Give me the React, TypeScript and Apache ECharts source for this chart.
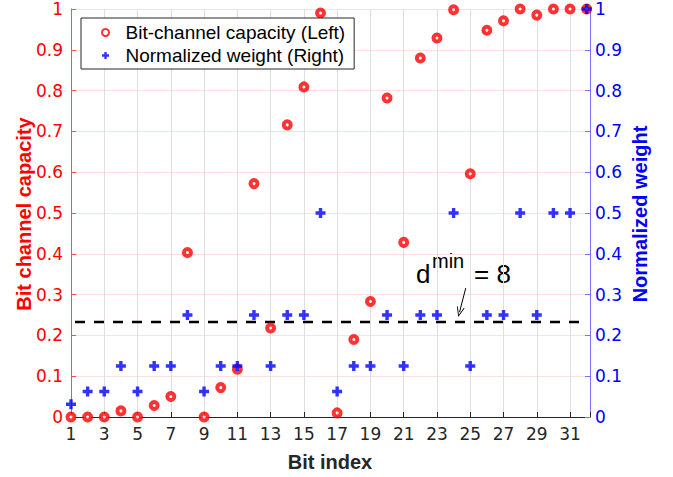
import { useEffect, useRef } from 'react';
import * as echarts from 'echarts';

// Bit positions 1..32
const bitIndex = [
  1, 2, 3, 4, 5, 6, 7, 8, 9, 10, 11, 12, 13, 14, 15, 16,
  17, 18, 19, 20, 21, 22, 23, 24, 25, 26, 27, 28, 29, 30, 31, 32,
];

// Bit-channel capacity (left axis)
const capacity = [
  0, 0, 0, 0.015, 0, 0.028, 0.05, 0.403, 0, 0.072, 0.117, 0.572, 0.218, 0.716, 0.809, 0.99,
  0.01, 0.19, 0.283, 0.782, 0.428, 0.88, 0.929, 0.998, 0.596, 0.948, 0.971, 1.0, 0.985, 1.0, 1.0, 1.0,
];

// Normalized row weight (right axis)
const weight = [
  0.03125, 0.0625, 0.0625, 0.125, 0.0625, 0.125, 0.125, 0.25, 0.0625, 0.125, 0.125, 0.25, 0.125, 0.25, 0.25, 0.5,
  0.0625, 0.125, 0.125, 0.25, 0.125, 0.25, 0.25, 0.5, 0.125, 0.25, 0.25, 0.5, 0.25, 0.5, 0.5, 1,
];

// Horizontal threshold line and the arrow pointing at it
const thresholdLevel = 0.233;
const thresholdSpan = [1, 32];
const arrowTail = [24.73, 0.316];
const arrowHead = [24.355, 0.257];

const PLUS = 'path://M3.3,0H6.7V3.3H10V6.7H6.7V10H3.3V6.7H0V3.3H3.3Z';
const OPEN_HEAD = 'path://M5,0L10,10L8.8,10L5,2.4L1.2,10L0,10Z';

const FONT = 'Liberation Sans, Arial, Helvetica, sans-serif';
const TICK_FONT = 'DejaVu Sans, Liberation Sans, sans-serif';

export default function App() {
  const ref = useRef<HTMLDivElement>(null);

  useEffect(() => {
    if (!ref.current) return;
    const chart = echarts.init(ref.current, undefined, { renderer: 'svg' });

    const capacityPoints = bitIndex.map((b, i) => [b, capacity[i]]);
    const weightPoints = bitIndex.map((b, i) => [b, weight[i]]);

    chart.setOption({
      animation: false,
      backgroundColor: '#ffffff',
      grid: { left: 71, right: 83, top: 9, bottom: 60, containLabel: false },
      legend: {
        orient: 'vertical',
        left: 81,
        top: 18,
        padding: [5, 9, 4, 20],
        itemGap: 4,
        itemWidth: 30,
        itemHeight: 7,
        backgroundColor: '#ffffff',
        borderColor: '#262626',
        borderWidth: 1,
        borderRadius: 0,
        selectedMode: false,
        textStyle: { fontFamily: FONT, fontSize: 19, color: '#000000' },
        data: ['Bit-channel capacity (Left)', 'Normalized weight (Right)'],
      },
      xAxis: {
        type: 'value',
        min: 1,
        max: 32.2,
        interval: 2,
        axisLine: { show: true, lineStyle: { color: '#262626', width: 1 } },
        axisTick: { show: true, inside: true, length: 5, lineStyle: { color: '#262626' } },
        axisLabel: {
          color: '#262626',
          fontFamily: TICK_FONT,
          fontSize: 17,
          margin: 8,
          formatter: (v: number) => (Number.isInteger(v) ? String(v) : ''),
        },
        splitLine: { show: true, lineStyle: { color: '#dedede', width: 1 } },
      },
      yAxis: [
        {
          type: 'value',
          position: 'left',
          min: 0,
          max: 1,
          interval: 0.1,
          axisLine: { show: true, lineStyle: { color: '#ff4d4d', width: 1 } },
          axisTick: { show: true, inside: true, length: 5, lineStyle: { color: '#ff4d4d' } },
          axisLabel: { color: '#ff0000', fontFamily: TICK_FONT, fontSize: 17, margin: 8 },
          splitLine: { show: true, lineStyle: { color: '#ffdfdf', width: 1 } },
        },
        {
          type: 'value',
          position: 'right',
          min: 0,
          max: 1,
          interval: 0.1,
          axisLine: { show: true, lineStyle: { color: '#7373ff', width: 1 } },
          axisTick: { show: true, inside: true, length: 5, lineStyle: { color: '#7373ff' } },
          axisLabel: { color: '#0000ff', fontFamily: TICK_FONT, fontSize: 17, margin: 5 },
          splitLine: { show: false },
        },
      ],
      series: [
        {
          name: 'threshold',
          type: 'line',
          yAxisIndex: 0,
          symbol: 'none',
          silent: true,
          data: thresholdSpan.map((x) => [x, thresholdLevel]),
          lineStyle: { color: '#000000', width: 2.6, type: [10, 9], dashOffset: 15 },
          z: 1,
          markLine: {
            silent: true,
            symbol: ['none', OPEN_HEAD],
            symbolSize: [8, 10],
            lineStyle: { color: '#000000', width: 1, type: 'solid' },
            label: { show: false },
            data: [[{ coord: arrowTail }, { coord: arrowHead }]],
          },
        },
        {
          name: 'Bit-channel capacity (Left)',
          type: 'scatter',
          yAxisIndex: 0,
          clip: false,
          symbol: 'circle',
          symbolSize: 7,
          itemStyle: { color: '#ffffff', borderColor: '#ff0000', borderWidth: 4 },
          data: capacityPoints,
          z: 3,
        },
        {
          name: 'Normalized weight (Right)',
          type: 'scatter',
          yAxisIndex: 1,
          clip: false,
          symbol: PLUS,
          symbolSize: 10,
          itemStyle: { color: '#0000ff' },
          data: weightPoints,
          z: 4,
        },
      ],
      graphic: [
        {
          type: 'text',
          x: 330,
          y: 462,
          style: {
            text: 'Bit index',
            fill: '#262626',
            font: `bold 20px ${FONT}`,
            align: 'center',
            verticalAlign: 'middle',
          },
        },
        {
          type: 'text',
          x: 24,
          y: 214,
          rotation: Math.PI / 2,
          style: {
            text: 'Bit channel capacity',
            fill: '#ff0000',
            font: `bold 20px ${FONT}`,
            align: 'center',
            verticalAlign: 'middle',
          },
        },
        {
          type: 'text',
          x: 640,
          y: 214,
          rotation: Math.PI / 2,
          style: {
            text: 'Normalized weight',
            fill: '#0000ff',
            font: `bold 20px ${FONT}`,
            align: 'center',
            verticalAlign: 'middle',
          },
        },
        {
          type: 'text',
          x: 416,
          y: 274,
          style: { text: 'd', fill: '#000000', font: `26px ${FONT}`, align: 'left', verticalAlign: 'middle' },
        },
        {
          type: 'text',
          x: 432,
          y: 261,
          style: { text: 'min', fill: '#000000', font: `20px ${FONT}`, align: 'left', verticalAlign: 'middle' },
        },
        {
          type: 'text',
          x: 474,
          y: 274,
          style: { text: '= 8', fill: '#000000', font: `26px ${FONT}`, align: 'left', verticalAlign: 'middle' },
        },
      ],
    });

    return () => chart.dispose();
  }, []);

  return (
    <div
      ref={ref}
      style={{ position: 'fixed', left: 0, top: 0, width: 673, height: 477, background: '#ffffff' }}
    />
  );
}
